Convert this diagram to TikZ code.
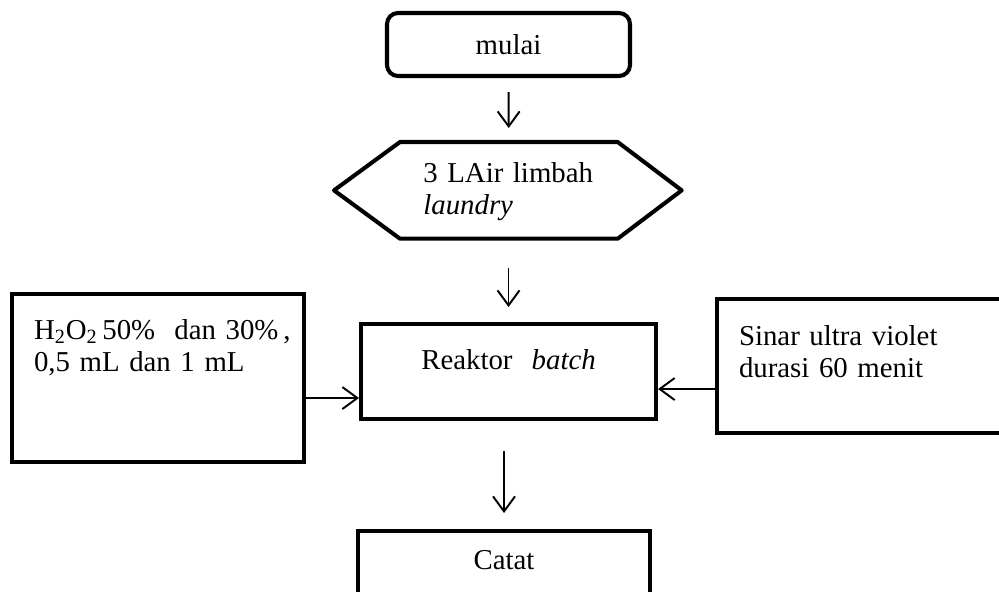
\documentclass[tikz,border=0pt]{standalone}
\usepackage{fontspec}
\setmainfont{Liberation Serif}
\usetikzlibrary{arrows.meta}

\begin{document}
\begin{tikzpicture}[font=\fontsize{16.4}{18.2}\selectfont,
  box/.style={draw, line width=2.3pt, inner xsep=0.44cm, inner ysep=0pt},
  flow/.style={-{Straight Barb[length=0.3cm,width=0.44cm]}, line width=1.1pt}]

\useasboundingbox (0,0) rectangle (19.98,11.82);
\clip (0,0) rectangle (19.98,11.82);

\node[box, rounded corners=0.22cm, minimum width=4.86cm, minimum height=1.26cm] (mulai) at (10.17,10.93) {mulai};

\node[inner xsep=0.46cm, inner ysep=0pt, text width=3.42cm, align=left, text height=0.8cm, text depth=1.12cm, anchor=north west] (limbah) at (8.0,8.98) {3 LAir limbah\\ \textit{laundry}};
\draw[line width=2.3pt, line join=round] (limbah.north west) -- (limbah.north east) -- ([xshift=1.28cm]limbah.east)
  -- (limbah.south east) -- (limbah.south west) -- ([xshift=-1.32cm]limbah.west) -- cycle;

\node[box, text width=5.02cm, align=center, text height=0.9cm, text depth=1.0cm, anchor=north west] (reaktor) at (7.18,5.38) {Reaktor\ \ \textit{batch}};

\node[box, text width=4.96cm, align=left, text height=0.9cm, text depth=2.46cm, anchor=north west] (h2o2) at (0.2,5.98) {\mbox{H\textsubscript{2}O\textsubscript{2}\,50\%\ \ dan 30\%\,,}\\ 0,5 mL dan 1 mL};

\node[box, text width=5.12cm, align=left, text height=0.92cm, text depth=1.76cm, anchor=north west] (sinar) at (14.3,5.88) {Sinar ultra violet\\ durasi 60 menit};

\node[box, text width=4.96cm, align=center, text height=0.76cm, text depth=1.4cm, anchor=north west] (catat) at (7.12,1.24) {Catat};

\draw[flow, shorten <=0.28cm, shorten >=0.28cm] (mulai) -- (limbah);

\draw[flow, shorten <=0.58cm, shorten >=0.3cm] (reaktor.north |- limbah.south) -- (reaktor.north);

\draw[flow, shorten <=0.6cm, shorten >=0.32cm] (catat.north |- reaktor.south) -- (catat.north);

\draw[flow] ([yshift=-0.4cm]h2o2.east) -- ([yshift=-0.4cm]h2o2.east -| reaktor.west);

\draw[flow] ([yshift=-0.46cm]sinar.west) -- ([yshift=-0.46cm]sinar.west -| reaktor.east);
\end{tikzpicture}
\end{document}
